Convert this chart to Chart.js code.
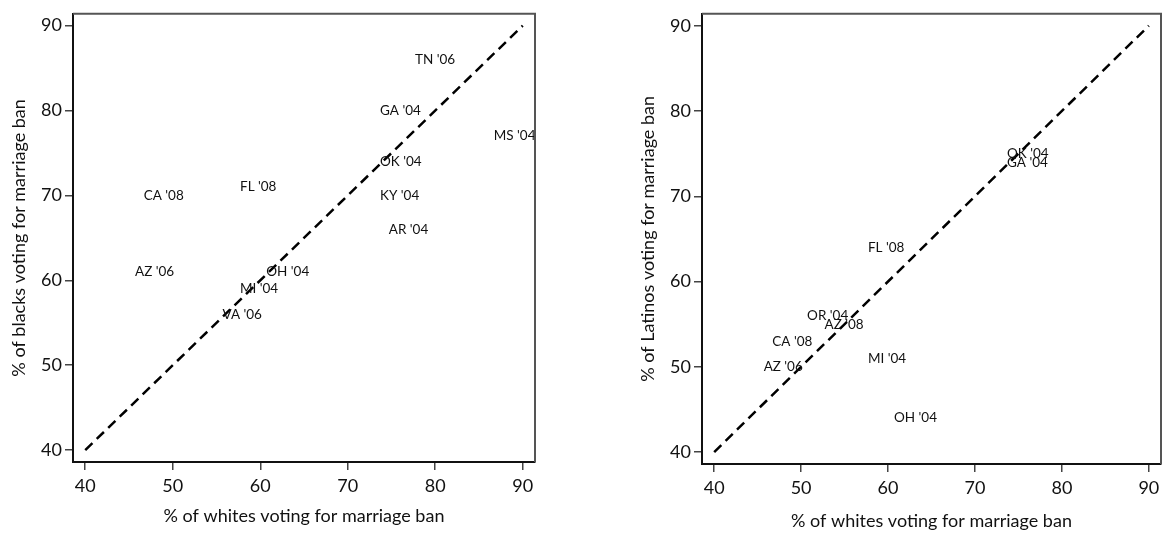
<!DOCTYPE html>
<html>
<head>
<meta charset="utf-8">
<script src="https://cdn.jsdelivr.net/npm/chart.js@4"></script>
<style>
  body { margin: 0; background: #fff; }
  .wrap { position: absolute; top: 0; height: 536px; }
  #leftWrap { left: 0; width: 560px; }
  #rightWrap { left: 620px; width: 552px; }
</style>
</head>
<body>
<div class="wrap" id="leftWrap"><canvas id="blackChart"></canvas></div>
<div class="wrap" id="rightWrap"><canvas id="latinoChart"></canvas></div>
<script>
// ---- data ----
const tickValues = [40, 50, 60, 70, 80, 90];

// left panel: whites vs blacks
const blackStates = ["TN '06", "GA '04", "MS '04", "OK '04", "CA '08", "FL '08",
                     "KY '04", "AR '04", "AZ '06", "OH '04", "MI '04", "VA '06"];
const blackWhiteVote = [77, 73, 86, 73, 46, 57, 73, 74, 45, 60, 57, 55];
const blackVote      = [86, 80, 77, 74, 70, 71, 70, 66, 61, 61, 59, 56];

// right panel: whites vs Latinos
const latinoStates = ["OK '04", "GA '04", "FL '08", "OR '04", "AZ '08",
                      "CA '08", "AZ '06", "MI '04", "OH '04"];
const latinoWhiteVote = [73, 73, 57, 50, 52, 46, 45, 57, 60];
const latinoVote      = [75, 74, 64, 56, 55, 53, 50, 51, 44];

// 45 degree reference line
const diagX = [40, 90];
const diagY = [40, 90];

// ---- helpers ----
const FONT = 'Lato, "Open Sans", sans-serif';

// draws the state labels to the right of each (invisible) point
const markerLabels = {
  id: 'markerLabels',
  afterDatasetsDraw(chart) {
    const ctx = chart.ctx;
    chart.data.datasets.forEach((ds, i) => {
      if (!ds.markLabels) return;
      const meta = chart.getDatasetMeta(i);
      ctx.save();
      ctx.font = '13.5px ' + FONT;
      ctx.fillStyle = '#111';
      ctx.textAlign = 'left';
      ctx.textBaseline = 'middle';
      meta.data.forEach((pt, j) => {
        ctx.fillText(ds.markLabels[j], pt.x + 6, pt.y);
      });
      ctx.restore();
    });
  }
};

// top and right edges of the plot box
const plotBox = {
  id: 'plotBox',
  afterDraw(chart) {
    const a = chart.chartArea;
    const ctx = chart.ctx;
    ctx.save();
    ctx.strokeStyle = '#555';
    ctx.lineWidth = 2;
    ctx.beginPath();
    ctx.moveTo(a.left, a.top);
    ctx.lineTo(a.right, a.top);
    ctx.lineTo(a.right, a.bottom);
    ctx.stroke();
    ctx.restore();
  }
};

function makeChart(id, states, xs, ys, yTitle, cfg) {
  const pts = xs.map((x, i) => ({ x: x, y: ys[i] }));
  const diag = diagX.map((x, i) => ({ x: x, y: diagY[i] }));

  return new Chart(document.getElementById(id), {
    type: 'scatter',
    data: {
      datasets: [
        {
          data: pts,
          markLabels: states,
          pointRadius: 0,
          pointHoverRadius: 0
        },
        {
          type: 'line',
          data: diag,
          borderColor: '#000',
          borderWidth: 2.5,
          borderDash: [10, 6],
          pointRadius: 0,
          fill: false
        }
      ]
    },
    options: {
      responsive: true,
      maintainAspectRatio: false,
      animation: false,
      layout: { padding: cfg.padding },
      plugins: {
        legend: { display: false },
        tooltip: { enabled: false }
      },
      scales: {
        x: {
          type: 'linear',
          min: 38.6,
          max: 91.4,
          afterBuildTicks: s => { s.ticks = tickValues.map(v => ({ value: v })); },
          afterFit: s => { s.height = cfg.xHeight; },
          grid: { drawOnChartArea: false, tickLength: 8, color: '#444', lineWidth: 1.5 },
          border: { display: true, color: '#111', width: 2 },
          ticks: { color: '#111', padding: 5, font: { family: FONT, size: 18 }, maxRotation: 0 },
          title: {
            display: true,
            text: '% of whites voting for marriage ban',
            color: '#111',
            font: { family: FONT, size: 18 },
            padding: { top: 0, bottom: cfg.xTitlePad }
          }
        },
        y: {
          type: 'linear',
          min: 38.6,
          max: 91.4,
          afterBuildTicks: s => { s.ticks = tickValues.map(v => ({ value: v })); },
          afterFit: s => { s.width = cfg.yWidth; },
          grid: { drawOnChartArea: false, tickLength: 8, color: '#444', lineWidth: 1.5 },
          border: { display: true, color: '#111', width: 2 },
          ticks: { color: '#111', padding: 3, font: { family: FONT, size: 18 } },
          title: {
            display: true,
            text: yTitle,
            color: '#111',
            font: { family: FONT, size: 18 },
            padding: { top: cfg.yTitlePad, bottom: 0 }
          }
        }
      }
    },
    plugins: [markerLabels, plotBox]
  });
}

makeChart('blackChart', blackStates, blackWhiteVote, blackVote,
  '% of blacks voting for marriage ban',
  { padding: { top: 5, right: 25, bottom: 0, left: 0 }, xHeight: 74, yWidth: 73, xTitlePad: 9, yTitlePad: 8 });

makeChart('latinoChart', latinoStates, latinoWhiteVote, latinoVote,
  '% of Latinos voting for marriage ban',
  { padding: { top: 3, right: 11, bottom: 0, left: 0 }, xHeight: 72, yWidth: 82, xTitlePad: 4, yTitlePad: 17 });
</script>
</body>
</html>
